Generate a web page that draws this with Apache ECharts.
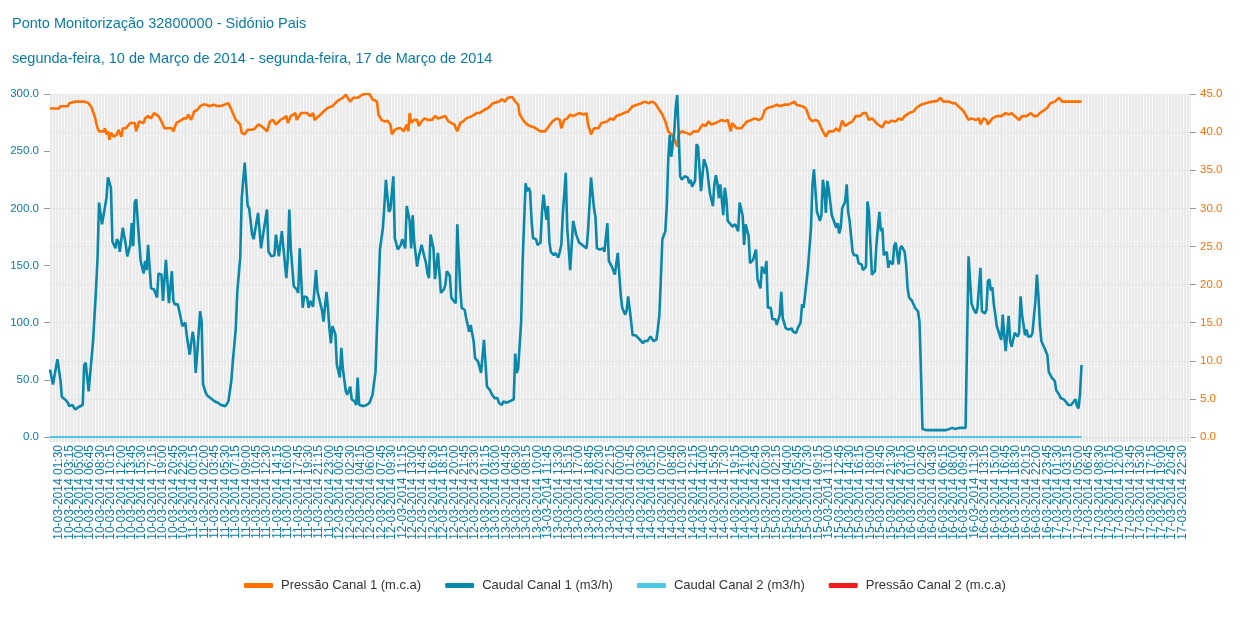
<!DOCTYPE html>
<html><head><meta charset="utf-8">
<script src="https://cdn.jsdelivr.net/npm/echarts@6/dist/echarts.min.js"></script>
<style>html,body{margin:0;padding:0;background:#fff}#c{width:1241px;height:631px}</style>
</head><body><div id="c"></div>
<script>
const titleText = 'Ponto Monitorização 32800000 - Sidónio Pais';
const subtitleText = 'segunda-feira, 10 de Março de 2014 - segunda-feira, 17 de Março de 2014';
const seriesNames = ['Pressão Canal 1 (m.c.a)', 'Caudal Canal 1 (m3/h)', 'Caudal Canal 2 (m3/h)', 'Pressão Canal 2 (m.c.a)'];
// time axis: 15-minute steps from 10-03-2014 00:00 to 17-03-2014 23:45
const startDay = 10, stepMinutes = 15, categoryCount = 768;
const labelEvery = 7, labelOffset = 6; // a tick label every 1h45, first at 01:30
const categories = [];
for (let i = 0; i < categoryCount; i++) {
  const m = i * stepMinutes, d = startDay + Math.floor(m / 1440), hh = Math.floor((m % 1440) / 60), mm = m % 60;
  categories.push(String(d).padStart(2,'0') + '-03-2014 ' + String(hh).padStart(2,'0') + ':' + String(mm).padStart(2,'0'));
}
// [category index, value]
const pressao1 = [[0,43.1],[6,43.1],[7,43.4],[12,43.4],[13,43.8],[14,43.9],[17,44.0],[23,44.0],[26,43.8],[28,43.2],[30,42.1],[32,40.5],[33,40.1],[36,40.1],[37,40.5],[38,39.7],[39,40.1],[40,39.0],[41,39.9],[43,39.4],[45,39.7],[46,40.3],[48,39.4],[49,40.5],[51,40.5],[54,41.2],[57,41.2],[58,40.1],[60,41.4],[63,41.2],[64,41.8],[66,42.1],[68,41.8],[70,42.5],[73,42.1],[75,41.4],[77,40.5],[82,40.5],[83,40.1],[85,41.2],[87,41.4],[90,41.8],[92,41.8],[93,42.3],[95,41.6],[97,42.7],[99,42.9],[101,43.4],[103,43.6],[105,43.6],[107,43.4],[110,43.6],[113,43.4],[116,43.5],[120,43.8],[121,43.4],[123,42.5],[125,41.6],[128,41.0],[129,39.9],[131,39.7],[133,40.3],[136,40.3],[138,40.5],[140,41.0],[142,40.8],[144,40.5],[146,40.1],[148,41.4],[150,41.6],[152,41.0],[155,41.6],[157,41.8],[159,42.1],[160,41.2],[162,42.1],[165,42.5],[166,41.6],[169,42.5],[173,42.5],[175,42.1],[177,42.5],[178,41.6],[182,42.3],[184,42.7],[187,43.2],[190,43.4],[193,44.0],[195,44.3],[197,44.5],[199,44.9],[202,44.0],[204,44.5],[207,44.5],[210,44.9],[212,45.0],[215,45.0],[217,44.3],[220,44.0],[221,42.3],[223,41.6],[225,41.4],[227,41.5],[229,41.0],[230,39.7],[232,40.3],[234,40.5],[236,40.5],[238,40.1],[240,41.0],[241,40.1],[242,42.5],[243,41.2],[245,41.6],[247,41.6],[248,40.8],[250,41.4],[252,41.8],[254,41.6],
[255,41.8],[257,41.6],[259,42.1],[261,41.8],[266,42.1],[268,41.4],[272,41.0],[274,40.1],[276,41.2],[278,41.4],[280,41.8],[284,42.1],[287,42.5],[289,42.5],[292,42.9],[295,43.2],[298,43.8],[302,44.0],[304,44.3],[306,44.0],[308,44.5],[311,44.6],[313,44.0],[315,43.6],[316,42.3],[319,41.4],[321,41.0],[323,40.8],[326,40.6],[330,40.1],[333,40.1],[335,40.6],[338,41.4],[341,41.8],[343,41.6],[344,40.5],[346,41.6],[348,41.8],[350,42.3],[352,42.1],[356,42.5],[359,42.3],[361,42.5],[362,41.0],[364,39.7],[366,40.5],[369,40.5],[371,41.2],[375,41.4],[377,41.8],[379,41.6],[381,42.1],[384,42.3],[386,42.5],[389,42.7],[392,43.4],[395,43.6],[398,43.8],[400,44.0],[403,43.8],[405,44.0],[407,43.8],[409,43.2],[412,42.3],[414,41.4],[416,40.1],[417,39.9],[420,39.2],[421,38.6],[422,38.1],[423,39.7],[425,40.1],[428,39.9],[431,39.7],[433,40.1],[436,40.1],[439,41.0],[441,40.8],[443,41.4],[445,41.0],[448,41.2],[450,41.4],[452,41.6],[454,41.4],[456,41.6],[458,40.1],[459,41.2],[462,40.5],[465,40.5],[469,41.4],[472,41.6],[474,41.8],[477,41.6],[479,41.8],[481,42.9],[483,43.2],[487,43.4],[489,43.6],[491,43.4],[494,43.6],[497,43.6],[501,44.0],[502,43.6],[506,43.4],[508,43.2],
[509,42.9],[511,41.8],[513,41.4],[515,41.6],[517,41.4],[519,40.5],[520,40.1],[522,39.4],[524,40.1],[527,40.1],[529,40.5],[531,40.1],[533,41.5],[535,40.8],[537,41.1],[540,41.4],[542,42.1],[545,42.1],[547,42.5],[549,42.5],[551,41.6],[553,41.8],[555,41.4],[557,41.0],[560,40.6],[562,41.4],[564,41.2],[566,41.5],[569,41.4],[571,41.8],[573,41.6],[575,42.1],[578,42.5],[581,42.7],[583,43.2],[586,43.6],[589,43.8],[591,43.9],[594,44.0],[597,44.1],[599,44.5],[601,44.0],[605,44.0],[607,43.8],[609,43.8],[611,43.4],[614,42.9],[616,42.3],[618,41.6],[620,41.8],[623,41.6],[625,41.8],[626,41.0],[628,41.8],[630,41.6],[631,41.0],[634,41.8],[637,42.1],[640,42.1],[643,42.5],[645,42.3],[647,42.5],[649,42.1],[652,41.6],[654,42.1],[657,42.1],[660,42.5],[662,42.1],[664,42.1],[666,42.5],[669,42.9],[671,43.2],[673,43.8],[676,44.0],[679,44.5],[681,44.0],[684,44.0],[689,44.0],[694,44.0]];
const caudal1 = [[0,59],[2,46],[5,68],[7,50],[8,35],[10,33],[12,30],[13,27],[15,28],[17,24],[19,26],[22,28],[23,63],[24,65],[26,40],[27,55],[29,84],[31,130],[32,157],[33,205],[35,186],[36,187],[38,209],[39,227],[41,218],[42,171],[44,165],[45,173],[46,171],[47,162],[49,183],[51,168],[52,158],[54,168],[55,187],[56,167],[57,205],[58,208],[60,171],[61,154],[63,143],[64,154],[65,146],[66,168],[68,130],[70,129],[72,122],[73,143],[75,142],[76,119],[78,155],[79,154],[80,117],[82,145],[83,119],[84,116],[86,116],[88,104],[89,97],[91,100],[92,89],[94,72],[96,92],[97,84],[98,56],[99,72],[101,110],[102,101],[103,46],[105,38],[106,36],[109,33],[111,31],[113,30],[115,28],[118,27],[120,31],[122,49],[123,66],[125,95],[126,127],[128,157],[129,209],[131,240],[133,202],[134,200],[136,177],[137,173],[138,173],[140,196],[142,165],[143,174],[146,199],[147,162],[149,158],[151,159],[152,177],[154,158],[156,180],[157,181],[159,139],[160,157],[161,199],[162,165],[164,132],[166,129],[167,126],[168,165],[170,113],[171,123],[173,122],[174,113],[175,119],[177,114],[178,130],[179,146],[180,127],[182,116],[183,111],[184,101],[186,127],[187,113],[188,95],[189,82],[190,97],[192,90],[193,63],[195,52],[196,78],[197,60],[199,40],[200,37],[202,44],[203,33],[205,31],[206,28],[207,52],[208,28],[211,27],[213,28],[215,30],[217,37],[219,57],[220,95],[222,164],[224,183],[225,203],[226,225],[228,197],[229,199],[231,228],[232,174],[233,173],[234,164],[236,168],[237,173],[239,165],[240,202],[242,189],[243,165],[244,194],[245,171],[247,149],[248,157],[250,168],[252,157],[253,152],[254,143],
[255,139],[256,177],[258,165],[259,138],[261,161],[263,126],[265,129],[266,133],[267,145],[269,141],[270,122],[271,120],[273,117],[274,186],[276,130],[277,113],[279,111],[280,104],[282,92],[283,98],[285,84],[286,69],[288,66],[290,56],[292,85],[294,44],[296,41],[297,38],[299,34],[301,34],[302,30],[304,28],[305,31],[307,30],[309,31],[310,32],[312,33],[313,73],[314,56],[315,60],[317,101],[318,154],[320,222],[321,215],[322,218],[323,215],[324,189],[325,174],[327,173],[328,168],[330,170],[331,196],[332,212],[334,190],[335,202],[336,170],[337,162],[339,159],[340,161],[342,157],[343,162],[344,168],[345,194],[347,231],[348,183],[350,146],[351,168],[352,189],[354,177],[356,170],[357,171],[359,167],[360,168],[361,165],[362,180],[364,227],[366,200],[367,192],[368,165],[370,164],[372,165],[373,162],[375,187],[376,154],[378,149],[380,142],[381,142],[382,161],[384,124],[385,113],[387,107],[388,111],[389,123],[391,101],[392,89],[394,89],[395,88],[397,85],[399,82],[400,84],[402,84],[403,85],[404,88],[406,84],[408,85],[409,95],[410,107],[411,139],[412,173],[414,180],[415,203],[416,244],[417,264],[418,245],[420,267],[421,288],[422,299],[423,264],[424,228],[425,225],[427,228],[429,227],[430,222],[431,225],[432,219],[434,224],[435,256],[436,254],[438,215],[439,229],[440,243],[442,235],[443,224],[444,213],[446,202],[447,221],[448,229],[449,222],[450,209],[451,221],[453,194],[454,218],[455,209],[456,189],[458,186],[459,184],[461,186],[463,180],[464,205],[466,194],[467,168],[468,186],[470,176],[471,152],[473,155],[475,164],[476,138],[478,130],[479,149],[481,143],[482,154],[483,113],[485,113],[486,103],[488,103],[489,98],[491,107],[492,127],[493,104],[495,95],[497,94],[499,95],[500,92],[502,91],[503,95],[505,100],
[506,116],[507,113],[508,124],[509,136],[510,148],[512,183],[513,221],[514,234],[515,234],[516,197],[518,189],[519,194],[520,225],[521,216],[522,196],[523,224],[524,216],[526,194],[527,193],[529,183],[530,187],[531,178],[532,183],[533,200],[535,206],[536,221],[537,197],[538,189],[540,162],[541,159],[543,159],[544,152],[546,151],[547,146],[549,149],[550,206],[551,197],[552,168],[553,142],[555,145],[556,168],[558,197],[559,180],[560,183],[561,159],[563,162],[564,148],[565,154],[567,151],[568,167],[569,170],[571,151],[572,165],[573,167],[575,162],[576,151],[577,130],[578,122],[580,119],[581,120],[582,113],[584,110],[585,101],[586,57],[587,7],[590,6],[594,6],[599,6],[603,6],[607,8],[609,7],[612,8],[616,8],[618,158],[620,117],[621,113],[623,108],[624,113],[626,148],[627,110],[629,108],[630,111],[631,136],[632,138],[633,128],[634,131],[635,116],[636,107],[637,97],[639,89],[640,85],[641,107],[642,89],[643,75],[645,106],[646,84],[647,79],[649,91],[651,88],[652,91],[653,123],[654,107],[656,89],[657,94],[658,88],[660,88],[661,91],[663,119],[664,142],[665,124],[666,98],[667,84],[669,78],[671,72],[672,57],[674,52],[676,49],[677,41],[679,37],[680,34],[682,33],[684,30],[685,28],[687,28],[688,27],[690,33],[691,27],[692,25],[693,37],[694,63]];
const caudal2 = [[0,0],[694,0]];
const pressao2 = [];
const leftTicks = {min: 0, max: 300, interval: 50};
const rightTicks = {min: 0, max: 45, interval: 5};

const teal = '#0a7ca3', orange = '#ff7000';
const font = 'Liberation Sans, Arial, sans-serif';
const chart = echarts.init(document.getElementById('c'), null, {renderer: 'canvas'});
chart.setOption({
  animation: false,
  backgroundColor: '#ffffff',
  textStyle: {fontFamily: font},
  title: [
    {text: titleText, left: 7, top: 11, textStyle: {fontSize: 14.5, fontWeight: 'normal', color: teal, fontFamily: font}},
    {text: subtitleText, left: 7, top: 46, textStyle: {fontSize: 14.5, fontWeight: 'normal', color: teal, fontFamily: font}}
  ],
  legend: {
    data: seriesNames, left: 239, top: 574, icon: 'roundRect', itemWidth: 29, itemHeight: 5, itemGap: 24,
    textStyle: {fontSize: 13, color: '#333', fontFamily: font, padding: [0, 0, 0, 3]}
  },
  grid: {left: 50, right: 51, top: 94, bottom: 194, containLabel: false, outerBoundsMode: 'none', show: true, backgroundColor: '#f6f6f6', borderWidth: 0},
  xAxis: {
    type: 'category', data: categories, boundaryGap: false,
    axisLine: {show: false},
    axisTick: {show: true, interval: 0, length: 5, lineStyle: {color: '#e4e4e4'}},
    splitLine: {show: true, interval: 0, lineStyle: {color: '#eaeaea', width: 1}},
    axisLabel: {interval: 0, rotate: 90, margin: 8, fontSize: 12, color: teal, hideOverlap: false,
      formatter: function (value, index) { return index % labelEvery === labelOffset ? value : ''; }}
  },
  yAxis: [
    {type: 'value', position: 'left', min: leftTicks.min, max: leftTicks.max, interval: leftTicks.interval,
     axisLine: {show: false}, axisTick: {show: true, length: 6, lineStyle: {color: '#999'}}, splitLine: {show: false},
     axisLabel: {formatter: v => v.toFixed(1), fontSize: 11.5, color: teal, margin: 11}},
    {type: 'value', position: 'right', min: rightTicks.min, max: rightTicks.max, interval: rightTicks.interval,
     axisLine: {show: false}, axisTick: {show: true, length: 6, lineStyle: {color: '#999'}},
     splitLine: {show: true, lineStyle: {color: '#e0e0e0'}},
     axisLabel: {formatter: v => v.toFixed(1), fontSize: 11.5, color: orange, margin: 10}}
  ],
  series: [
    {name: seriesNames[0], type: 'line', yAxisIndex: 1, data: pressao1, symbol: 'none', color: orange, lineStyle: {width: 2.6, color: orange}},
    {name: seriesNames[1], type: 'line', yAxisIndex: 0, data: caudal1, symbol: 'none', color: '#0a88aa', lineStyle: {width: 2.6, color: '#0a88aa'}},
    {name: seriesNames[2], type: 'line', yAxisIndex: 0, data: caudal2, symbol: 'none', color: '#4ec6e6', lineStyle: {width: 2, color: '#4ec6e6'}},
    {name: seriesNames[3], type: 'line', yAxisIndex: 1, data: pressao2, symbol: 'none', color: '#ee1c1c', lineStyle: {width: 2.6, color: '#ee1c1c'}}
  ]
});
</script></body></html>
